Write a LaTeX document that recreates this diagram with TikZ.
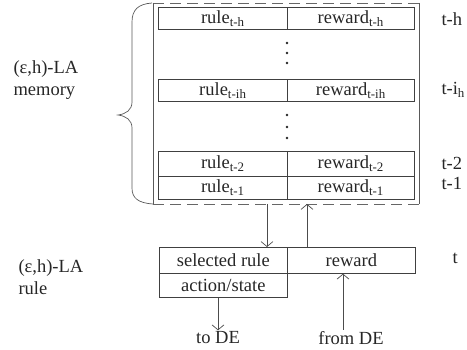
\documentclass[tikz,border=0pt]{standalone}
\usepackage{fontspec}
\setmainfont{Liberation Serif}
\usetikzlibrary{arrows.meta}
\begin{document}
\begin{tikzpicture}[x=1pt,y=-1pt,
  cell/.style={draw=black!75, line width=0.7pt, minimum height=#1, inner sep=0pt, anchor=north west, text=black!85},
  cell/.default=22pt,
  lbl/.style={font=\fontsize{18.5}{22}\selectfont, text=black!85},
  arr/.style={draw=black!70, line width=0.7pt, -{Straight Barb[length=5pt,width=12pt]}},
  ln/.style={draw=black!70, line width=0.7pt},
  dashbox/.style={draw=black!60, line width=0.8pt, dash pattern=on 11pt off 6pt},
  every node/.style={font=\fontsize{18.5}{22}\selectfont}]
\useasboundingbox (0,0) rectangle (467,350);
% memory container
\coordinate (mtl) at (153,3);
\coordinate (mtr) at (419,3);
\coordinate (mbl) at (153,204);
\coordinate (mbr) at (419,204);
\draw[dashbox] (mtl) -- (mtr);
\draw[dashbox] (mbl) -- (mbr);
\draw[ln, black!65] (mtl) -- (mbl);
\draw[ln, black!65] (mtr) -- (mbr);
% brace
\draw[ln, black!65] (152,3) .. controls (138,4) and (132,10) .. (132,22)
  -- (132,102) .. controls (132,110) and (126,114) .. (118,115)
  .. controls (126,116) and (132,120) .. (132,128)
  -- (132,188) .. controls (132,198) and (138,203) .. (153,204);
% rows
\node[cell, minimum width=129pt] (r1) at (158,7) {rule\textsubscript{t-h}};
\node[cell, minimum width=127pt] (w1) at (287,7) {reward\textsubscript{t-h}};
\node[cell, minimum width=129pt] (r2) at (158,79) {rule\textsubscript{t-ih}};
\node[cell, minimum width=127pt] (w2) at (287,79) {reward\textsubscript{t-ih}};
\node[cell=25pt, minimum width=129pt] (r3) at (158,151) {rule\textsubscript{t-2}};
\node[cell=25pt, minimum width=127pt] (w3) at (287,151) {reward\textsubscript{t-2}};
\node[cell=23pt, minimum width=129pt] (r4) at (158,176) {rule\textsubscript{t-1}};
\node[cell=23pt, minimum width=127pt] (w4) at (287,176) {reward\textsubscript{t-1}};
% dots
\foreach \y in {43,53,63,115,127,138} \fill[black!85] (287,\y) circle (1.3pt);
% right labels
\node[lbl, anchor=west] (th) at (438,19) {t-h};
\node[lbl, anchor=west] (tih) at (438,90) {t-i\textsubscript{h}};
\node[lbl, anchor=west] (t2) at (438,163) {t-2};
\node[lbl, anchor=west] (t1) at (438,183) {t-1};
\node[lbl, anchor=west] (t) at (449,258) {t};
% left labels
\node[lbl, anchor=west, align=left] (mem) at (10,80) {(ε,h)-LA\\memory};
\node[lbl, anchor=west, align=left] (rl) at (15,277) {(ε,h)-LA\\rule};
% current rule box
\node[cell=26pt, minimum width=128pt] (sel) at (159,247) {selected rule};
\node[cell=26pt, minimum width=128pt] (rew) at (287,247) {reward};
\node[cell=24pt, minimum width=128pt] (act) at (159,273) {action/state};
% connectors
\coordinate (a1) at (267,204);
\coordinate (a2) at (307,204);
\draw[arr] (a1) -- (sel.north -| a1);
\draw[arr] (rew.north -| a2) -- (a2);
\node[lbl] (todE) at (218,338) {to DE};
\node[lbl] (fromDE) at (351,338) {from DE};
\draw[arr] (act.south -| todE) -- ([yshift=-2pt]todE.north);
\draw[arr] ([yshift=-2pt]fromDE.north -| 343,0) -- (rew.south -| 343,0);
\end{tikzpicture}
\end{document}
